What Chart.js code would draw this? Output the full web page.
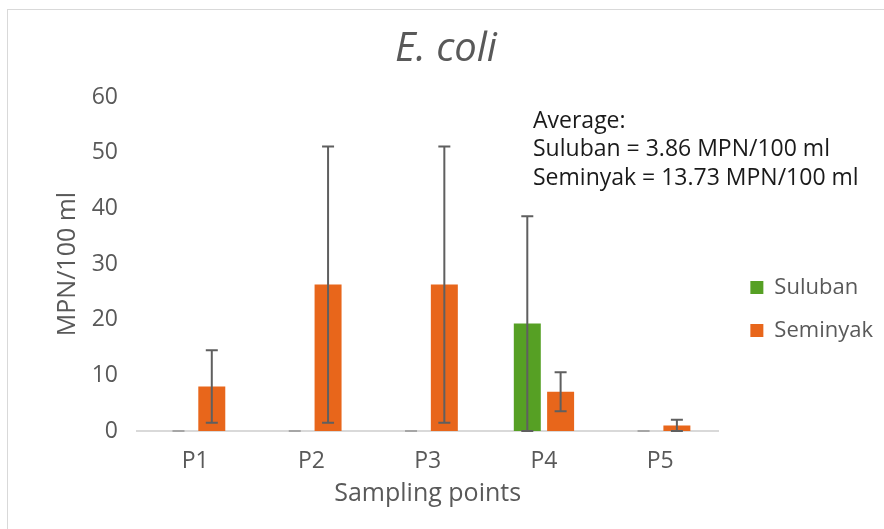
<!DOCTYPE html>
<html>
<head>
<meta charset="utf-8">
<script src="https://cdn.jsdelivr.net/npm/chart.js@4.4.1/dist/chart.umd.min.js"></script>
<style>
  html, body { margin: 0; padding: 0; background: #fff; }
  #wrap { position: relative; width: 884px; height: 529px; overflow: hidden; }
  #frame { position: absolute; left: 7px; top: 9px; width: 900px; height: 540px; border: 1px solid #d9d9d9; box-sizing: border-box; }
  #chart { position: absolute; left: 0; top: 0; }
</style>
</head>
<body>
<div id="wrap">
  <div id="frame"></div>
  <canvas id="chart" width="884" height="529"></canvas>
</div>
<script>
// data
const categories = ['P1', 'P2', 'P3', 'P4', 'P5'];
const sulubanValues = [0, 0, 0, 19.3, 0];
const sulubanErrors = [0, 0, 0, 19.3, 0];
const seminyakValues = [8.0, 26.3, 26.3, 7.05, 1.0];
const seminyakErrors = [6.5, 24.8, 24.8, 3.5, 1.0];
const yMin = 0, yMax = 60, yStep = 10;
const averageLines = ['Average:', 'Suluban = 3.86 MPN/100 ml', 'Seminyak = 13.73 MPN/100 ml'];

const FONT = "'Open Sans', sans-serif";
const GREY = '#595959';

// draws the error bars from each dataset's errors array
const errorBars = {
    id: 'errorBars',
    afterDatasetsDraw(chart){
        const ctx = chart.ctx;
        const y = chart.scales.y;
        ctx.save();
        ctx.lineWidth = 2;
        chart.data.datasets.forEach(function(ds, di){
            const meta = chart.getDatasetMeta(di);
            meta.data.forEach(function(bar, i){
                const v = ds.data[i];
                const e = ds.errors[i];
                const top = y.getPixelForValue(v + e);
                const bottom = y.getPixelForValue(Math.max(0, v - e));
                // zero bars only show a faint cap on the axis
                ctx.strokeStyle = (v === 0 && e === 0) ? '#a6a6a6' : '#5f5f5f';
                ctx.beginPath();
                ctx.moveTo(bar.x, top);
                ctx.lineTo(bar.x, bottom);
                ctx.moveTo(bar.x - 6, top);
                ctx.lineTo(bar.x + 6, top);
                ctx.moveTo(bar.x - 6, bottom);
                ctx.lineTo(bar.x + 6, bottom);
                ctx.stroke();
            });
        });
        ctx.restore();
    }
};

// nudge the legend a little to the right, away from the plot
const legendShift = {
    id: 'legendShift',
    afterLayout(chart){
        chart.legend.left += 11;
        chart.legend.right += 11;
    }
};

// the "Average" note in the upper right of the plot
const averageNote = {
    id: 'averageNote',
    afterDraw(chart){
        const ctx = chart.ctx;
        const area = chart.chartArea;
        ctx.save();
        ctx.font = '23px ' + FONT;
        ctx.fillStyle = '#1a1a1a';
        ctx.textBaseline = 'middle';
        averageLines.forEach(function(line, i){
            ctx.fillText(line, area.left + 396, area.top + 24 + i * 28.5);
        });
        ctx.restore();
    }
};

const ctx = document.getElementById('chart').getContext('2d');
var chart = new Chart(ctx, {
    type: 'bar',
    data: {
        labels: categories,
        datasets: [{
            label: 'Suluban',
            backgroundColor: '#56a024',
            data: sulubanValues,
            errors: sulubanErrors
        }, {
            label: 'Seminyak',
            backgroundColor: '#e8661b',
            data: seminyakValues,
            errors: seminyakErrors
        }]
    },
    options: {
        responsive: false,
        animation: false,
        layout: { padding: { left: 20, right: 12, top: 9, bottom: 20 } },
        datasets: {
            bar: { categoryPercentage: 0.573, barPercentage: 0.81 }
        },
        plugins: {
            title: {
                display: true,
                text: 'E. coli',
                color: GREY,
                font: { family: FONT, size: 40, style: 'italic', weight: 'normal' },
                padding: { top: 17, bottom: 23 }
            },
            legend: {
                position: 'right',
                // empty title only used to push the items down
                title: { display: true, text: ' ', font: { size: 10 }, padding: { top: 88, bottom: 0 } },
                labels: {
                    boxWidth: 13,
                    boxHeight: 13,
                    padding: 21,
                    color: GREY,
                    font: { family: FONT, size: 22 }
                }
            },
            tooltip: { enabled: false }
        },
        scales: {
            x: {
                grid: { display: false },
                border: { display: true, color: '#d9d9d9', width: 2 },
                ticks: { color: GREY, padding: 9, font: { family: FONT, size: 23 } },
                title: {
                    display: true,
                    text: 'Sampling points',
                    color: GREY,
                    font: { family: FONT, size: 25 },
                    padding: 0
                },
                afterFit(scale){ scale.height = 78; }
            },
            y: {
                min: yMin,
                max: yMax,
                grid: { display: false },
                border: { display: false },
                ticks: { stepSize: yStep, color: GREY, padding: 11, font: { family: FONT, size: 23 } },
                title: {
                    display: true,
                    text: 'MPN/100 ml',
                    color: GREY,
                    font: { family: FONT, size: 25 },
                    padding: { top: 33, bottom: 0 }
                },
                afterFit(scale){ scale.width = 117; }
            }
        }
    },
    plugins: [errorBars, legendShift, averageNote]
});
</script>
</body>
</html>
